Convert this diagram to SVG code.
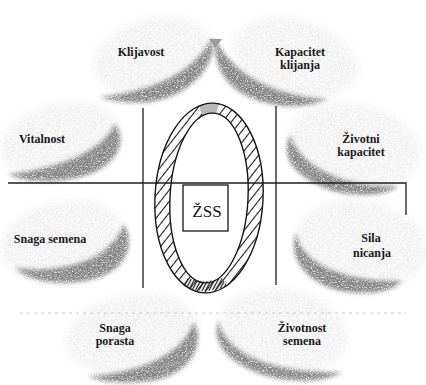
<svg xmlns="http://www.w3.org/2000/svg" width="426" height="385" viewBox="0 0 426 385">
<style>
.face{fill:#e8e8e8;filter:url(#grainFace)}
.side{fill:#858585;filter:url(#grainSide)}
.lbl{font-family:"Liberation Serif","Times New Roman",serif;font-weight:bold;font-size:12px;fill:#1a1a1a;text-anchor:middle}
.ax{stroke:#1e1e1e;stroke-width:1.3;fill:none}
.ring{fill:none;stroke:#151515;stroke-width:1.4}
</style>
<defs>
<filter id="grainFace" x="-20%" y="-20%" width="140%" height="140%">
<feGaussianBlur in="SourceGraphic" stdDeviation="4" result="blur"/>
<feTurbulence type="fractalNoise" baseFrequency="0.75" numOctaves="2" seed="4" result="noise"/>
<feColorMatrix in="noise" type="matrix" values="0 0 0 0 0 0 0 0 0 0 0 0 0 0 0 3 0 0 0 -1.05" result="mask"/>
<feComposite in="blur" in2="mask" operator="in"/>
</filter>
<filter id="grainSide" x="-20%" y="-30%" width="140%" height="160%">
<feGaussianBlur in="SourceGraphic" stdDeviation="2.2" result="blur"/>
<feTurbulence type="fractalNoise" baseFrequency="0.8" numOctaves="2" seed="7" result="noise"/>
<feColorMatrix in="noise" type="matrix" values="0 0 0 0 0 0 0 0 0 0 0 0 0 0 0 3 0 0 0 -0.55" result="mask"/>
<feComposite in="blur" in2="mask" operator="in"/>
</filter>
<pattern id="hatch" width="7" height="7" patternUnits="userSpaceOnUse" patternTransform="rotate(-55)">
<path d="M0,3.5 H7" stroke="#1a1a1a" stroke-width="1.1"/>
</pattern>
<pattern id="hatchDense" width="3" height="3" patternUnits="userSpaceOnUse" patternTransform="rotate(-65)">
<path d="M0,1.5 H3" stroke="#1a1a1a" stroke-width="1.2"/>
</pattern>
</defs>

<rect width="426" height="385" fill="#ffffff"/>

<g id="klijavost">
<ellipse class="face" cx="152" cy="55" rx="60" ry="36" transform="rotate(-15 152 55)"/>
<path class="side" d="M100,97 C140,92 190,80 212,38 C218,60 195,95 150,102 C125,104 108,100 100,97 Z"/>
<text class="lbl" x="141" y="56">Klijavost</text>
</g>

<g id="kapacitet-klijanja">
<ellipse class="face" cx="295" cy="58" rx="64" ry="38" transform="rotate(15 295 58)"/>
<path class="side" d="M216,40 C232,72 270,96 328,99 C300,112 262,106 240,92 C222,80 212,60 216,40 Z"/>
<text class="lbl" x="300" y="56">Kapacitet</text>
<text class="lbl" x="300" y="69">klijanja</text>
</g>

<g id="vitalnost">
<ellipse class="face" cx="60" cy="140" rx="60" ry="36" transform="rotate(-12 60 140)"/>
<path class="side" d="M8,174 C50,170 100,155 115,124 C128,140 118,168 80,177 C50,184 20,181 8,174 Z"/>
<text class="lbl" x="42" y="143">Vitalnost</text>
</g>

<g id="snaga-semena">
<ellipse class="face" cx="62" cy="240" rx="62" ry="38" transform="rotate(-12 62 240)"/>
<path class="side" d="M15,268 C60,274 110,262 124,224 C136,245 126,272 90,280 C60,286 30,282 15,268 Z"/>
<text class="lbl" x="50" y="243">Snaga semena</text>
</g>

<g id="snaga-porasta">
<ellipse class="face" cx="132" cy="334" rx="66" ry="40" transform="rotate(-10 132 334)"/>
<path class="side" d="M88,376 C130,374 180,360 194,322 C206,345 190,375 150,381 C120,385 98,381 88,376 Z"/>
<text class="lbl" x="115" y="332">Snaga</text>
<text class="lbl" x="115" y="345">porasta</text>
</g>

<g id="zivotni-kapacitet">
<ellipse class="face" cx="355" cy="145" rx="66" ry="40" transform="rotate(12 355 145)"/>
<path class="side" d="M290,135 C300,165 340,188 398,186 C385,198 345,198 320,186 C295,174 280,158 290,135 Z"/>
<text class="lbl" x="361" y="143">Životni</text>
<text class="lbl" x="361" y="156">kapacitet</text>
</g>

<g id="sila-nicanja">
<ellipse class="face" cx="362" cy="243" rx="66" ry="42" transform="rotate(10 362 243)"/>
<path class="side" d="M296,232 C300,262 340,282 402,281 C390,295 355,296 330,288 C305,278 288,258 296,232 Z"/>
<text class="lbl" x="371" y="242">Sila</text>
<text class="lbl" x="372" y="257">nicanja</text>
</g>

<g id="zivotnost-semena">
<ellipse class="face" cx="283" cy="332" rx="65" ry="42" transform="rotate(10 283 332)"/>
<path class="side" d="M218,320 C225,355 275,374 342,372 C325,383 285,384 255,372 C228,360 212,345 218,320 Z"/>
<text class="lbl" x="302" y="332">Životnost</text>
<text class="lbl" x="302" y="345">semena</text>
</g>

<g id="connectors">
<path class="ax" d="M8,183 H406 V215"/>
<path class="ax" d="M143,108 V288"/>
<path class="ax" d="M276,106 V285"/>
<polygon points="209,39 222,39 215,48" fill="#9a9a9a"/>
<path d="M20,313 H406" stroke="#cccccc" stroke-width="1" stroke-dasharray="3 4" fill="none"/>
</g>

<g id="zss">
<g transform="rotate(3 209 198)">
<path d="M155,198 a54,95 0 1,0 108,0 a54,95 0 1,0 -108,0 Z M170,198 a39,85 0 1,0 78,0 a39,85 0 1,0 -78,0 Z" fill="url(#hatch)" fill-rule="evenodd"/>
<path d="M188,287 Q209,296 232,285 L226,277 Q209,285 192,279 Z" fill="url(#hatchDense)"/>
<path d="M194,106 Q204,102 214,103 L212,113 Q204,113 198,116 Z" fill="#b8b8b8"/>
<ellipse class="ring" cx="209" cy="198" rx="54" ry="95"/>
<ellipse class="ring" cx="209" cy="198" rx="39" ry="85"/>
</g>
<rect x="183" y="185" width="45" height="46" fill="#ffffff" stroke="#151515" stroke-width="1.3"/>
<text x="207" y="217" font-family="Liberation Serif, Times New Roman, serif" font-size="17" fill="#151515" text-anchor="middle">ŽSS</text>
</g>
</svg>
